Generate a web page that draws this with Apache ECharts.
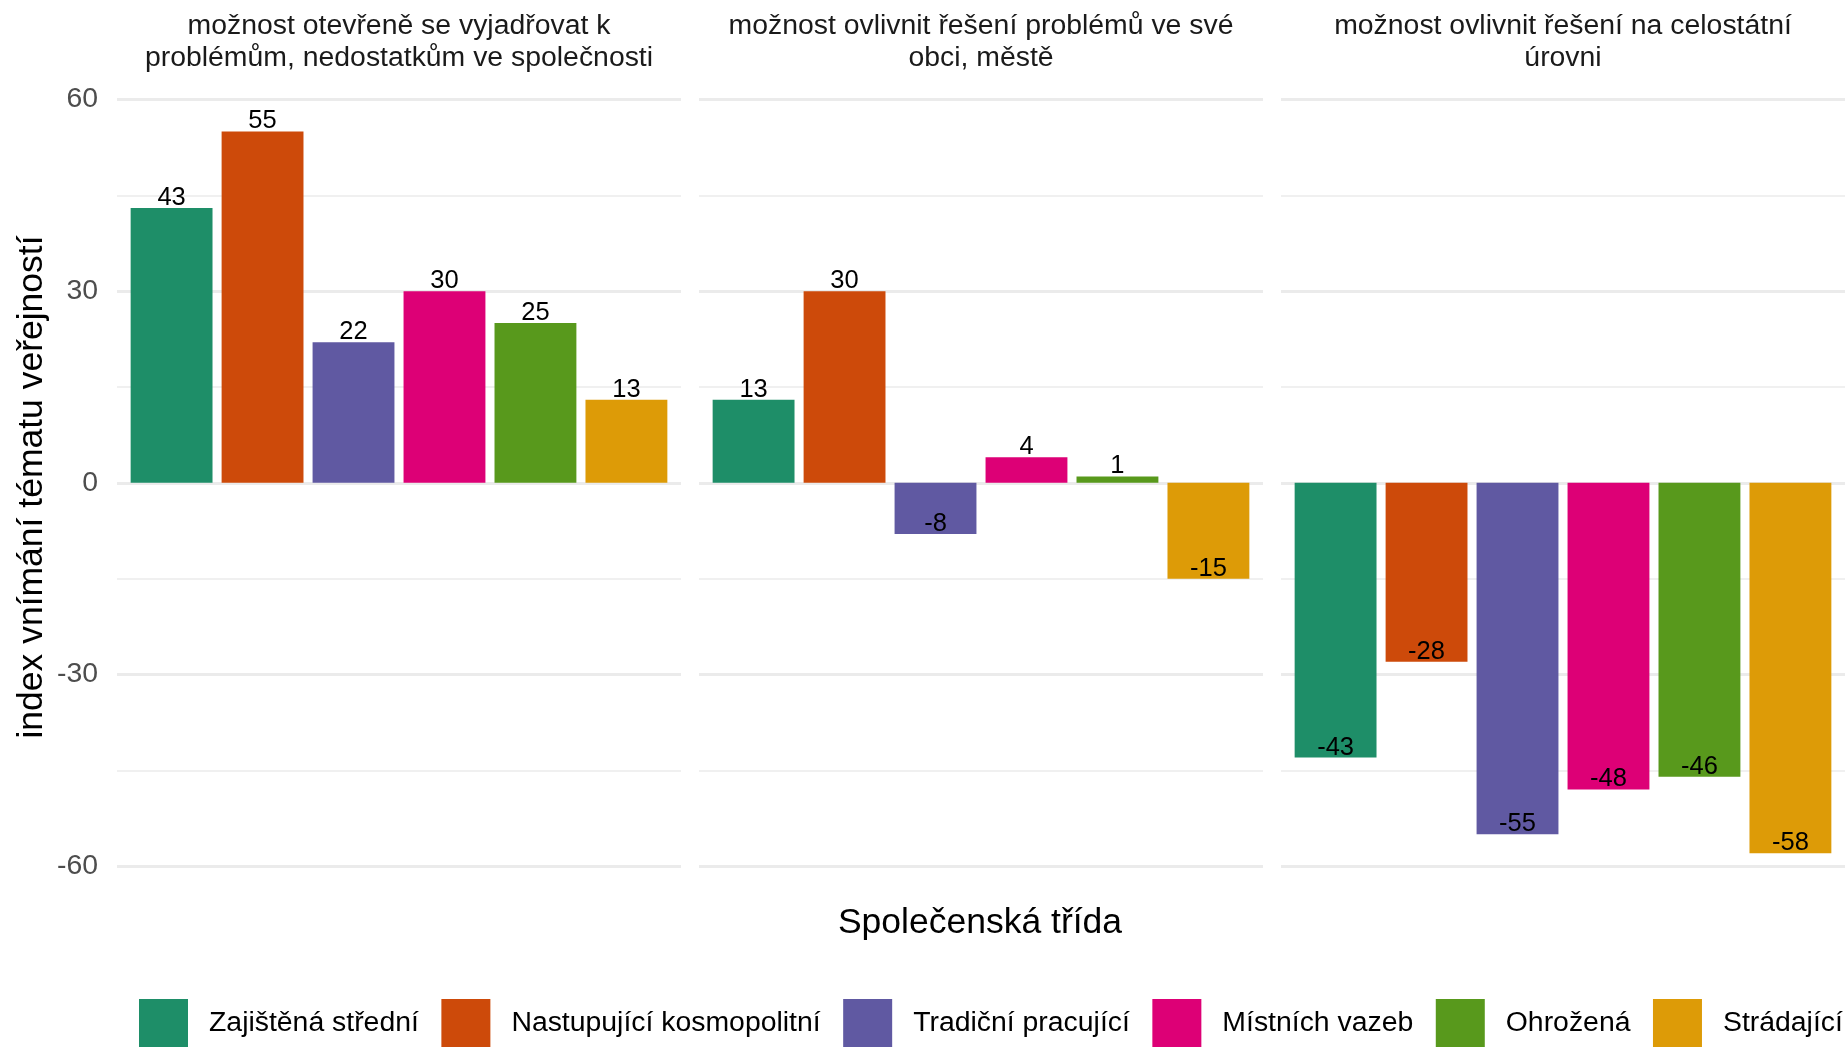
<!DOCTYPE html>
<html>
<head>
<meta charset="utf-8">
<script src="https://cdn.jsdelivr.net/npm/echarts@6/dist/echarts.min.js"></script>
<style>html,body{margin:0;padding:0;background:#fff}#c{width:1845px;height:1047px}</style>
</head>
<body>
<div id="c"></div>
<script>
// ---- data ----
const categories = ['Zajištěná střední','Nastupující kosmopolitní','Tradiční pracující','Místních vazeb','Ohrožená','Strádající'];
const panelTitles = [
  'možnost otevřeně se vyjadřovat k\nproblémům, nedostatkům ve společnosti',
  'možnost ovlivnit řešení problémů ve své\nobci, městě',
  'možnost ovlivnit řešení na celostátní\núrovni'
];
const valuesExpress  = [43, 55, 22, 30, 25, 13];
const valuesLocal    = [13, 30, -8, 4, 1, -15];
const valuesNational = [-43, -28, -55, -48, -46, -58];
const yMin = -60, yMax = 60, yStep = 30;
const yAxisTitle = 'index vnímání tématu veřejností';
const xAxisTitle = 'Společenská třída';
const colors = ['#1E8E68','#CD4A0A','#6059A2','#DD0076','#58991C','#DD9B07'];

// ---- layout ----
const panelValues = [valuesExpress, valuesLocal, valuesNational];
const panelLeft = [117, 699, 1281];
const panelWidth = 564;
const gTop = 99.5, gHeight = 766.6;
const unit = panelWidth / 6.2;
const FONT = 'Liberation Sans, Arial, Helvetica, sans-serif';

const grid = [], xAxis = [], yAxis = [], series = [], title = [];
panelLeft.forEach((L, p) => {
  grid.push({left: L, top: gTop, width: panelWidth, height: gHeight});
});
panelLeft.forEach((L, p) => {
  grid.push({left: L + unit * 0.1, top: gTop, width: unit * 6, height: gHeight});
});
for (let p = 0; p < 3; p++) {
  xAxis.push({type: 'value', gridIndex: p, show: false, min: 0, max: 1});
  yAxis.push({
    type: 'value', gridIndex: p, min: yMin, max: yMax, interval: yStep,
    axisLine: {show: false}, axisTick: {show: false},
    axisLabel: {show: p === 0, fontSize: 28.4, color: '#4D4D4D', margin: 19, fontFamily: FONT},
    splitLine: {show: true, lineStyle: {color: '#EBEBEB', width: 3}},
    minorTick: {show: false, splitNumber: 2},
    minorSplitLine: {show: true, lineStyle: {color: '#EBEBEB', width: 1.5}}
  });
}
for (let p = 0; p < 3; p++) {
  xAxis.push({type: 'category', gridIndex: 3 + p, data: categories, show: false});
  yAxis.push({type: 'value', gridIndex: 3 + p, min: yMin, max: yMax, interval: yStep, show: false, splitLine: {show: false}});
  const vals = panelValues[p];
  categories.forEach((c, k) => {
    series.push({
      type: 'bar', name: c, xAxisIndex: 3 + p, yAxisIndex: 3 + p,
      barWidth: '90%', barGap: '-100%',
      itemStyle: {color: colors[k]},
      label: {show: true, fontSize: 25.5, color: '#000', fontFamily: FONT, distance: -3},
      data: categories.map((cc, j) => j === k ? {value: vals[j], label: {position: vals[j] >= 0 ? 'top' : 'insideBottom'}} : '-')
    });
  });
  title.push({
    text: panelTitles[p], left: panelLeft[p] + panelWidth / 2, top: 10, textAlign: 'center', padding: 0,
    textStyle: {fontSize: 28.4, fontWeight: 'normal', color: '#1A1A1A', lineHeight: 31.8, fontFamily: FONT}
  });
}

const chart = echarts.init(document.getElementById('c'), null, {renderer: 'canvas'});
chart.setOption({
  animation: false,
  backgroundColor: '#fff',
  color: colors,
  title: title,
  grid: grid, xAxis: xAxis, yAxis: yAxis, series: series,
  legend: {
    data: categories, left: 139, top: 999, padding: 0, width: 1720,
    icon: 'rect', itemWidth: 49, itemHeight: 49, itemGap: 22.5,
    textStyle: {fontSize: 28.4, color: '#000', fontFamily: FONT, padding: [0, 0, 0, 16]}
  },
  graphic: [
    {type: 'text', x: 32, y: 487, rotation: Math.PI / 2,
     style: {text: yAxisTitle, fontSize: 35.5, fill: '#000', textAlign: 'center', textVerticalAlign: 'middle', fontFamily: FONT}},
    {type: 'text', x: 980, y: 923,
     style: {text: xAxisTitle, fontSize: 35.5, fill: '#000', textAlign: 'center', textVerticalAlign: 'middle', fontFamily: FONT}}
  ]
});
</script>
</body>
</html>
